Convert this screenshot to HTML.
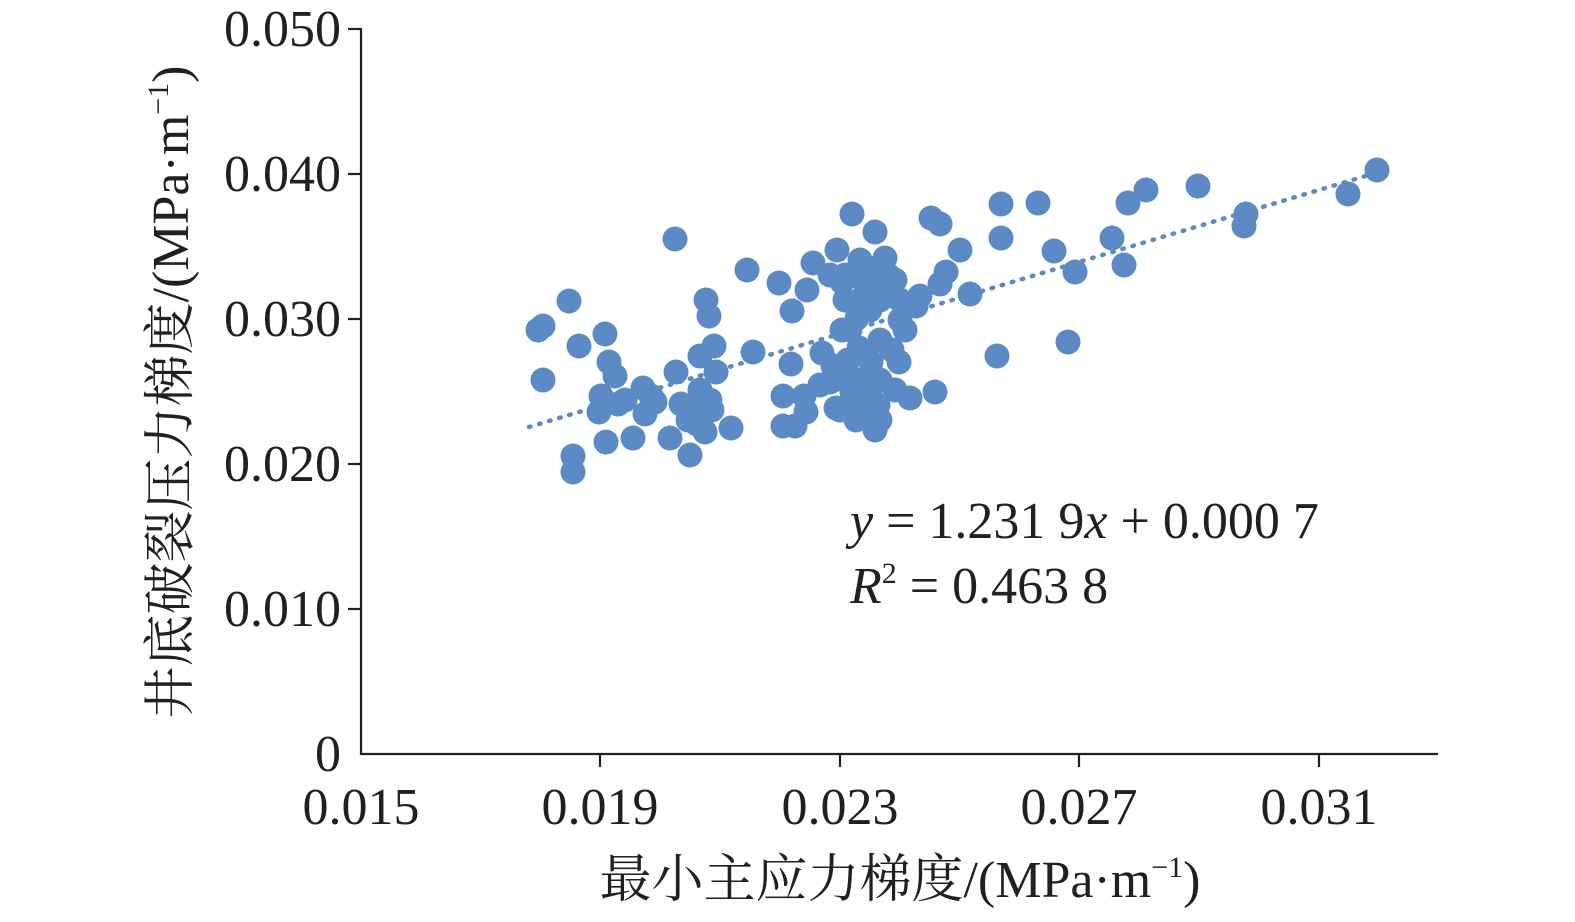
<!DOCTYPE html>
<html><head><meta charset="utf-8"><style>
body{margin:0;background:#fff}
svg text{font-family:"Liberation Serif","Noto Serif CJK SC",serif;fill:#231f20}
</style></head><body>
<svg width="1575" height="917" viewBox="0 0 1575 917" xmlns="http://www.w3.org/2000/svg">
<g fill="#5b8ac4" id="pts"></g>
<line x1="529" y1="427" x2="1379" y2="172" stroke="#5b8ac4" stroke-width="4.5" stroke-dasharray="1.5 9" stroke-linecap="round"/>
<g stroke="#231f20" stroke-width="2.2" fill="none">
<line x1="361" y1="28" x2="361" y2="755"/>
<line x1="360" y1="754" x2="1438" y2="754"/>
<line x1="348" y1="29" x2="361" y2="29"/>
<line x1="348" y1="174" x2="361" y2="174"/>
<line x1="348" y1="319" x2="361" y2="319"/>
<line x1="348" y1="464" x2="361" y2="464"/>
<line x1="348" y1="609" x2="361" y2="609"/>
<line x1="600" y1="754" x2="600" y2="767"/>
<line x1="840" y1="754" x2="840" y2="767"/>
<line x1="1079" y1="754" x2="1079" y2="767"/>
<line x1="1319" y1="754" x2="1319" y2="767"/>
</g>
<g font-size="52" text-anchor="end">
<text x="341" y="46">0.050</text>
<text x="341" y="191">0.040</text>
<text x="341" y="336">0.030</text>
<text x="341" y="481">0.020</text>
<text x="341" y="626">0.010</text>
<text x="341" y="771">0</text>
</g>
<g font-size="52" text-anchor="middle">
<text x="361" y="824">0.015</text>
<text x="600" y="824">0.019</text>
<text x="840" y="824">0.023</text>
<text x="1079" y="824">0.027</text>
<text x="1319" y="824">0.031</text>
<text x="900" y="897">最小主应力梯度/(MPa·m<tspan font-size="30" dy="-20">−1</tspan><tspan dy="20">)</tspan></text>
<text transform="translate(188,392) rotate(-90)">井底破裂压力梯度/(MPa·m<tspan font-size="30" dy="-20">−1</tspan><tspan dy="20">)</tspan></text>
</g>
<g font-size="52">
<text x="850" y="538"><tspan font-style="italic">y</tspan> = 1.231 9<tspan font-style="italic">x</tspan> + 0.000 7</text>
<text x="850" y="603"><tspan font-style="italic">R</tspan><tspan font-size="30" dy="-20">2</tspan><tspan dy="20"> = 0.463 8</tspan></text>
</g>
</svg>
<script>
var p=[538,330,543,326,543,380,569,301,573,456,573,472,579,346,605,334,609,362,615,376,601,396,599,412,606,442,633,438,625,400,618,404,643,388,645,414,651,396,655,402,675,239,676,372,670,438,690,455,681,404,690,410,700,356,706,300,709,316,714,346,716,372,697,424,705,432,710,400,700,390,695,410,688,420,712,410,731,428,747,270,753,352,779,283,792,311,783,396,783,426,795,426,791,364,806,412,804,396,813,263,807,290,822,353,833,366,848,360,837,250,836,408,852,214,862,279,857,318,859,348,871,362,875,232,880,266,885,258,891,290,889,276,856,420,875,430,852,392,870,395,880,380,895,390,910,398,935,392,899,362,905,330,916,306,920,296,931,218,940,224,946,272,940,284,960,250,970,294,1001,204,1001,238,997,356,1038,203,1054,251,1075,272,1068,342,1112,238,1124,265,1128,203,1146,190,1198,186,1246,214,1244,226,1348,194,1377,170,842,282,845,300,860,300,850,330,870,310,880,300,842,330,830,275,845,275,865,270,895,280,900,300,880,340,858,380,845,380,830,382,820,385,840,410,866,395,862,405,870,410,878,405,880,420,892,350,900,320,860,260,870,285];
var g=document.getElementById('pts'),s='';
for(var i=0;i<p.length;i+=2)s+='<circle cx="'+p[i]+'" cy="'+p[i+1]+'" r="12.5"/>';
g.innerHTML=s;
</script>
</body></html>
